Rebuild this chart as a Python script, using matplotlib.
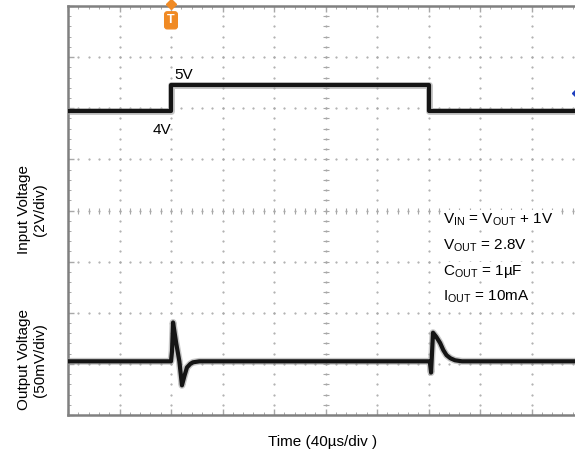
import matplotlib
matplotlib.use("Agg")
import matplotlib.pyplot as plt
import numpy as np

plt.rcParams['font.family'] = ['Liberation Sans', 'DejaVu Sans']
plt.rcParams['mathtext.fontset'] = 'custom'
plt.rcParams['mathtext.rm'] = 'Liberation Sans'

# scope settings
US_PER_DIV = 40.0
V_PER_DIV = 2.0
MV_PER_DIV = 50.0
IN_OFFSET = 3.95    # div position of 0 V on input channel
OUT_OFFSET = 1.05   # div position of the output baseline

# input voltage step (us, V)
t_in = [0, 80, 80, 280, 280, 412]
v_in = [4, 4, 5, 5, 4, 4]

# output voltage deviation (us, mV)
t_out = [0, 80, 80.8, 81.6, 84, 86.5, 88.5, 90.5, 92.4, 95, 97, 102, 110,
         280, 281, 282, 283.5, 286, 289, 291.5, 294, 297, 300.6, 306, 412]
v_out = [0, 0, 10, 38, 18, 0, -23.5, -14, -6, -2.5, -1, 0, 0,
         0, 0, -11, 28, 24, 18, 11, 6, 3, 1, 0, 0]

fig = plt.figure(figsize=(5.75, 4.57), dpi=100)
ax = fig.add_axes([68/575, 42/457, 515/575, 409/457])
ax.set_xlim(0, 10)
ax.set_ylim(0, 8)

# graticule
gcol = '#a8a8a8'
minor = np.arange(0, 10.01, 0.2)
minor_y = np.arange(0, 8.01, 0.2)
for gx in range(1, 10):
    ax.plot([gx]*len(minor_y), minor_y, ls='none', marker='.', ms=1.1, color=gcol, zorder=1)
for gy in range(1, 8):
    ax.plot(minor, [gy]*len(minor), ls='none', marker='.', ms=1.1, color=gcol, zorder=1)
ax.plot([5]*len(minor_y), minor_y, ls='none', marker='_', ms=4.5, mew=0.8, color=gcol, zorder=1)
ax.plot(minor, [4]*len(minor), ls='none', marker='|', ms=4.5, mew=0.8, color=gcol, zorder=1)

ax.set_xticks(range(0, 11))
ax.set_yticks(range(0, 9))
ax.set_xticks(minor, minor=True)
ax.set_yticks(minor_y, minor=True)
ax.tick_params(which='both', direction='in', top=True, right=True,
               labelbottom=False, labelleft=False, color=gcol)
ax.tick_params(which='major', length=4, width=1)
ax.tick_params(which='minor', length=2.5, width=0.7)
for s in ax.spines.values():
    s.set_color('#808080')
    s.set_linewidth(1.8)

# traces
x_in = np.array(t_in) / US_PER_DIV
y_in = np.array(v_in) / V_PER_DIV + IN_OFFSET
x_out = np.array(t_out) / US_PER_DIV
y_out = np.array(v_out) / MV_PER_DIV + OUT_OFFSET
for xs, ys in [(x_in, y_in), (x_out, y_out)]:
    ax.plot(xs, ys, color='#9a9a9a', lw=5.0, alpha=0.55, zorder=3)
    ax.plot(xs, ys, color='#151515', lw=3.0, zorder=4)

# trigger marker and channel marker
ax.plot([2.0], [8.03], marker='D', ms=5, color='#f08a24', clip_on=False, zorder=6)
ax.text(2.0, 7.72, 'T', color='white', fontsize=9, fontweight='bold', ha='center', va='center',
        bbox=dict(boxstyle='round,pad=0.2', fc='#f08a24', ec='#f08a24'), zorder=6)
ax.plot([9.93], [6.30], marker='D', ms=7, color='#1f3fbf', clip_on=False, zorder=6)

# labels
ax.text(2.07, 6.58, '5V', fontsize=11, ha='left', va='baseline')
ax.text(1.65, 5.5, '4V', fontsize=11, ha='left', va='baseline')

box = dict(fc='white', ec='none', pad=1)
ax.text(7.28, 3.74, r'V$_{\mathrm{IN}}$ = V$_{\mathrm{OUT}}$ + 1V', fontsize=11, va='baseline', bbox=box, zorder=5)
ax.text(7.28, 3.25, r'V$_{\mathrm{OUT}}$ = 2.8V', fontsize=11, va='baseline', bbox=box, zorder=5)
ax.text(7.28, 2.74, r'C$_{\mathrm{OUT}}$ = 1µF', fontsize=11, va='baseline', bbox=box, zorder=5)
ax.text(7.28, 2.25, r'I$_{\mathrm{OUT}}$ = 10mA', fontsize=11, va='baseline', bbox=box, zorder=5)

fig.text(32/575, 1 - 210/457, 'Input Voltage\n(2V/div)', rotation=90, fontsize=11,
         ha='center', va='center', multialignment='center')
fig.text(32/575, 1 - 360/457, 'Output Voltage\n(50mV/div)', rotation=90, fontsize=11,
         ha='center', va='center', multialignment='center')
fig.text(323/575, 1 - 442/457, 'Time (40µs/div )', fontsize=11, ha='center', va='center')

fig.savefig('out.png', dpi=100)
